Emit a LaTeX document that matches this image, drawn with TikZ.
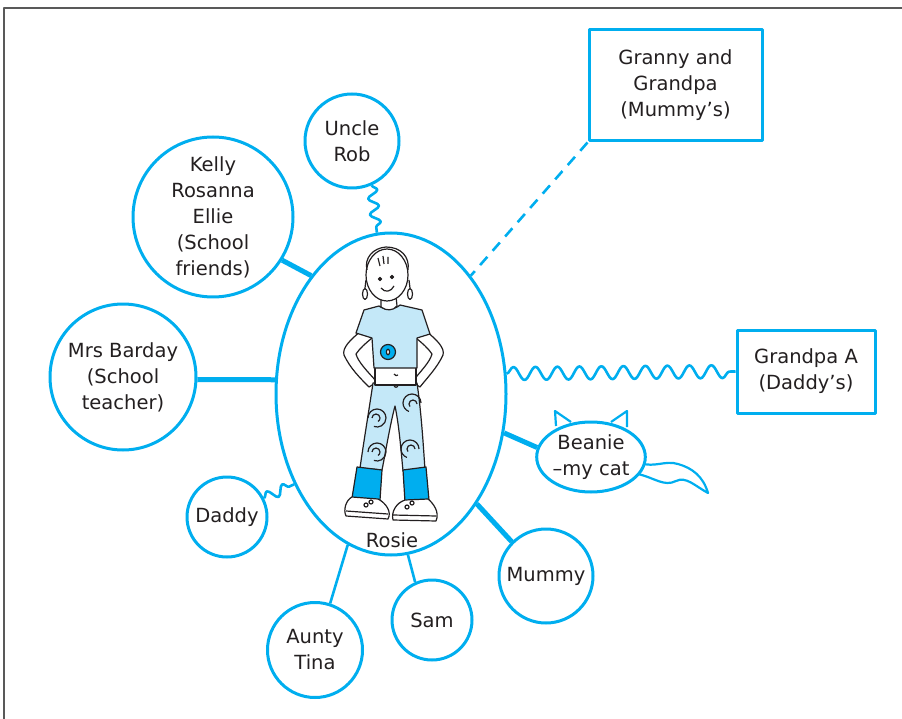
\documentclass[tikz,border=0pt]{standalone}
\usepackage{fontspec}
\setmainfont{DejaVu Sans}
\usetikzlibrary{decorations.pathmorphing,shapes.geometric}
\definecolor{rosieblue}{HTML}{00AEEF}
\definecolor{paleblue}{HTML}{C4E8F8}
\definecolor{ink}{HTML}{231F20}

\begin{document}
\begin{tikzpicture}[x=1pt,y=-1pt,line join=round,
    every node/.style={text=ink,font=\fontsize{19.5}{26}\selectfont,align=center},
    person/.style={circle,draw=rosieblue,fill=white,line width=3pt,inner sep=0pt,minimum size=#1},
    relbox/.style={rectangle,draw=rosieblue,fill=white,line width=3pt,inner sep=0pt},
    close/.style={draw=rosieblue,line width=5pt},
    link/.style={draw=rosieblue,line width=2.6pt},
    far/.style={draw=rosieblue,line width=2.6pt,dash pattern=on 11pt off 8pt},
    wavy/.style={draw=rosieblue,line width=2.6pt,decorate,
      decoration={snake,amplitude=#1,segment length=22pt}}]

  \useasboundingbox (0,0) rectangle (902,719);
  \draw[gray!70!black,line width=1.2pt] (902,8) -- (4,8) -- (4,719);

  % cat ears and tail, under the cat
  \draw[rosieblue,line width=2.2pt] (556,426) -- (555,411) -- (571,422);
  \draw[rosieblue,line width=2.2pt] (611,422) -- (627,411) -- (627,427);
  \draw[rosieblue,line width=2.2pt] (640,463) .. controls (655,468) and (665,460) .. (678,464)
        .. controls (692,468) and (703,476) .. (708,493)
        .. controls (695,486) and (686,476) .. (676,481)
        .. controls (664,487) and (655,478) .. (638,474);

  % the people round Rosie
  \node[ellipse,draw=rosieblue,fill=white,line width=3pt,minimum width=230pt,minimum height=322pt] (rosie) at (391,394) {};
  \node[person=94pt]  (uncle)   at (352,141) {Uncle\\Rob};
  \node[person=160pt] (friends) at (213,217) {Kelly\\Rosanna\\Ellie\\(School\\friends)};
  \node[person=146pt] (teacher) at (123,377) {Mrs Barday\\(School\\teacher)};
  \node[person=80pt]  (daddy)   at (227,517) {Daddy};
  \node[person=95pt]  (aunty)   at (315,650) {Aunty\\Tina};
  \node[person=80pt]  (sam)     at (432,620) {Sam};
  \node[person=94pt]  (mummy)   at (546,576) {Mummy};
  \node[ellipse,draw=rosieblue,fill=white,line width=3pt,inner sep=0pt,
        minimum width=108pt,minimum height=70pt] (beanie) at (591,457) {Beanie\\–my cat};
  \node[relbox,minimum width=173pt,minimum height=111pt] (granny)  at (675.5,85.5) {Granny and\\Grandpa\\(Mummy’s)};
  \node[relbox,minimum width=138pt,minimum height=83pt]  (grandpa) at (806,371.5) {Grandpa A\\(Daddy’s)};

  % Rosie
  \begin{scope}[draw=ink,line width=1.2pt]
    % arms, hands on hips
    \filldraw[fill=white] (361,331) .. controls (350,340) and (342,348) .. (344,355)
      .. controls (350,368) and (360,378) .. (369,387) -- (377,382)
      .. controls (368,372) and (358,362) .. (356,354)
      .. controls (360,348) and (366,343) .. (372,338) -- cycle;
    \filldraw[fill=white] (426,331) .. controls (437,340) and (445,348) .. (443,355)
      .. controls (437,368) and (427,378) .. (420,387) -- (412,382)
      .. controls (420,372) and (430,362) .. (432,354)
      .. controls (428,348) and (422,343) .. (416,338) -- cycle;
    % trousers
    \filldraw[fill=paleblue] (373,383) -- (417,383) .. controls (421,410) and (423,440) .. (425,470)
      -- (403,471) .. controls (401,450) and (399,425) .. (395,406)
      .. controls (390,425) and (386,450) .. (382,470)
      -- (360,468) .. controls (364,440) and (369,410) .. (373,383) -- cycle;
    \draw (368,418) arc (180:470:9) (372,418) arc (180:420:4);
    \draw (421,403) arc (0:-250:9) (417,404) arc (0:-220:4);
    \draw (368,452) arc (180:470:9) (372,452) arc (180:420:4);
    \draw (419,449) arc (0:-250:9) (415,449) arc (0:-220:4);
    % midriff
    \filldraw[fill=white] (375,366) rectangle (416,385);
    \draw (394,374) .. controls (395,376) and (397,376) .. (398,375);
    \draw (394,385) .. controls (394,388) and (398,388) .. (398,385);
    % shirt
    \filldraw[fill=paleblue] (379,306) -- (364,310) -- (356,333) -- (372,338) -- (374,368)
      -- (417,368) -- (417,338) -- (430,334) -- (422,310) -- (400,305)
      .. controls (395,310) and (384,310) .. (379,306) -- cycle;
    \filldraw[fill=rosieblue] (388,352) circle (7.5);
    \filldraw[fill=white] (388,352) ellipse (1.6 and 2.8);
    % neck and head
    \filldraw[fill=white] (381,296) -- (381,307) .. controls (386,311) and (393,311) .. (397,306) -- (396,296) -- cycle;
    \filldraw[fill=white] (387,275) ellipse (21 and 26);
    \draw (367,270) .. controls (364,258) and (373,248) .. (386,247)
      .. controls (401,247) and (410,257) .. (408,270);
    \draw (378,258) -- (380,266) (383,256) -- (384,264) (388,257) -- (388,264);
    \filldraw[fill=ink] (380,279) circle (1.6) (392,277) circle (1.6);
    \draw (381,288) .. controls (385,293) and (391,292) .. (394,286);
    \draw (366,280) -- (365,288) (409,280) -- (410,288);
    \draw (365,294) ellipse (2.5 and 5.5) (410,294) ellipse (2.5 and 5.5);
    % socks and shoes
    \filldraw[fill=rosieblue] (357,467) -- (382,470) -- (380,500) -- (352,498) -- cycle;
    \filldraw[fill=rosieblue] (403,470) -- (426,467) -- (429,500) -- (405,502) -- cycle;
    \filldraw[fill=white] (352,497) .. controls (346,500) and (343,510) .. (346,516)
      -- (388,519) .. controls (392,512) and (386,503) .. (378,499) -- cycle;
    \filldraw[fill=white] (405,500) .. controls (396,503) and (391,512) .. (393,520)
      -- (436,521) .. controls (440,512) and (433,503) .. (428,499) -- cycle;
    \draw (346,511) -- (388,514) (393,515) -- (436,516);
    \draw (366,505) circle (2) (371,502) circle (2) (407,507) circle (2) (412,503) circle (2);
  \end{scope}
  \node (rosiename) at (392,540) {Rosie};

  % links to Rosie
  \path (friends.-32) edge[close] (rosie.124)
        (teacher.-2)  edge[close] (rosie.173)
        (mummy.135)   edge[close] (rosie.-52)
        (beanie.170)  edge[close] (rosie.-19)
        (aunty.72)    edge[link]  (rosie.-106)
        (sam.114)     edge[link]  (rosie.-84)
        (granny.south west) edge[far] (rosie.56);
  \draw[wavy=5pt,decoration={segment length=16pt}] (uncle.-66) -- (rosie.95);
  \draw[wavy=5pt,decoration={segment length=17pt}] (daddy.27) -- (rosie.-137);
  \draw[wavy=6.5pt] (rosie.10) -- (grandpa.west);

\end{tikzpicture}
\end{document}
